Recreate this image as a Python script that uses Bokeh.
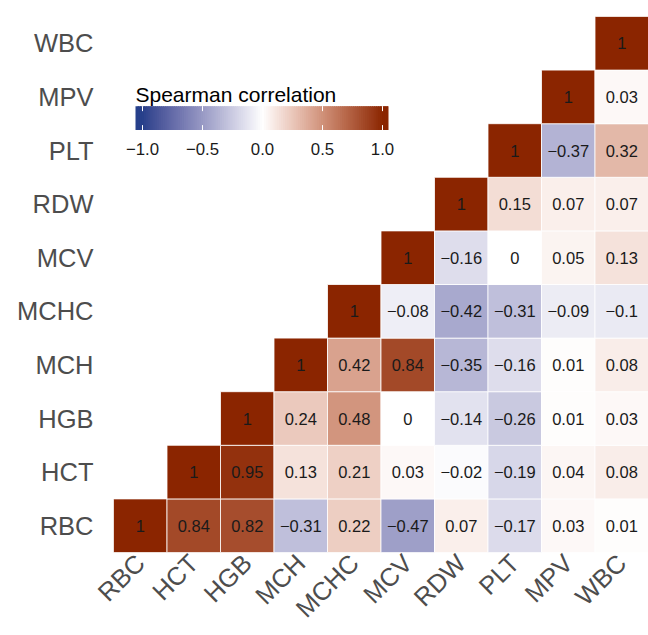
import numpy as np
from bokeh.plotting import figure
from bokeh.models import Range1d, FixedTicker, ColumnDataSource
from bokeh.core.properties import value
from bokeh.embed import file_html
from bokeh.resources import INLINE

# ---------------- data ----------------
variables = ["RBC", "HCT", "HGB", "MCH", "MCHC", "MCV", "RDW", "PLT", "MPV", "WBC"]
# upper-triangle rows: row i holds correlations with variables[i:], bottom row first
row_RBC = [1, 0.84, 0.82, -0.31, 0.22, -0.47, 0.07, -0.17, 0.03, 0.01]
row_HCT = [1, 0.95, 0.13, 0.21, 0.03, -0.02, -0.19, 0.04, 0.08]
row_HGB = [1, 0.24, 0.48, 0, -0.14, -0.26, 0.01, 0.03]
row_MCH = [1, 0.42, 0.84, -0.35, -0.16, 0.01, 0.08]
row_MCHC = [1, -0.08, -0.42, -0.31, -0.09, -0.1]
row_MCV = [1, -0.16, 0, 0.05, 0.13]
row_RDW = [1, 0.15, 0.07, 0.07]
row_PLT = [1, -0.37, 0.32]
row_MPV = [1, 0.03]
row_WBC = [1]
rows = [row_RBC, row_HCT, row_HGB, row_MCH, row_MCHC, row_MCV, row_RDW, row_PLT, row_MPV, row_WBC]
legend_ticks = [-1.0, -0.5, 0.0, 0.5, 1.0]
legend_title = "Spearman correlation"

LOW, MID, HIGH = "#27408B", "#FFFFFF", "#8B2500"

# ---------------- colour helpers (CIELAB interpolation) ----------------
def hex_to_rgb(h):
    h = h.lstrip("#")
    return [int(h[i:i + 2], 16) / 255 for i in (0, 2, 4)]

M = np.array([[0.4124564, 0.3575761, 0.1804375],
              [0.2126729, 0.7151522, 0.0721750],
              [0.0193339, 0.1191920, 0.9503041]])
WP = np.array([0.95047, 1.0, 1.08883])

def rgb_to_lab(rgb):
    c = np.array(rgb)
    lin = np.where(c <= 0.04045, c / 12.92, ((c + 0.055) / 1.055) ** 2.4)
    xyz = M @ lin / WP
    d = 6 / 29
    f = np.where(xyz > d ** 3, np.cbrt(xyz), xyz / (3 * d * d) + 4 / 29)
    return np.array([116 * f[1] - 16, 500 * (f[0] - f[1]), 200 * (f[1] - f[2])])

def lab_to_hex(lab):
    L, a, b = lab
    fy = (L + 16) / 116
    fx = fy + a / 500
    fz = fy - b / 200
    d = 6 / 29
    f = np.array([fx, fy, fz])
    xyz = np.where(f > d, f ** 3, 3 * d * d * (f - 4 / 29)) * WP
    lin = np.linalg.solve(M, xyz)
    lin = np.clip(lin, 0, 1)
    c = np.where(lin <= 0.0031308, 12.92 * lin, 1.055 * lin ** (1 / 2.4) - 0.055)
    c = np.clip(np.round(c * 255), 0, 255).astype(int)
    return "#%02x%02x%02x" % tuple(c)

LAB_LOW, LAB_MID, LAB_HIGH = (rgb_to_lab(hex_to_rgb(c)) for c in (LOW, MID, HIGH))

def colour(v):
    v = max(-1.0, min(1.0, v))
    if v < 0:
        lab = LAB_MID + (LAB_LOW - LAB_MID) * (-v)
    else:
        lab = LAB_MID + (LAB_HIGH - LAB_MID) * v
    return lab_to_hex(lab)

def fmt(v):
    if float(v) == int(v):
        s = str(int(v))
    else:
        s = ("%.2f" % v).rstrip("0")
    return s.replace("-", "\u2212")

# ---------------- cells ----------------
xs, ys, vals, cols, labels = [], [], [], [], []
for i, r in enumerate(rows):
    for k, v in enumerate(r):
        j = i + k
        xs.append(j + 0.5)
        ys.append(i + 0.5)
        vals.append(v)
        cols.append(colour(v))
        labels.append(fmt(v))
src = ColumnDataSource(dict(x=xs, y=ys, v=vals, c=cols, t=labels))

FONT = "Liberation Sans"
W, H = 648, 635
BL, BR, BT, BB = 113, 0, 16, 81
p = figure(width=W, height=H, x_range=Range1d(0, 10), y_range=Range1d(0, 10),
           output_backend="svg", toolbar_location=None,
           min_border_left=BL, min_border_right=BR, min_border_top=BT, min_border_bottom=BB)
p.background_fill_color = "white"
p.border_fill_color = "white"
p.outline_line_color = None
p.grid.visible = False

p.rect(x="x", y="y", width=1, height=1, source=src, fill_color="c",
       line_color="white", line_width=0.8)
p.text(x="x", y="y", text="t", source=src, text_align="center", text_baseline="middle",
       text_font=value(FONT), text_font_size="16.5px", text_color="#1a1a1a")

# axes
ticks = [i + 0.5 for i in range(len(variables))]
for ax in (p.xaxis[0], p.yaxis[0]):
    ax.ticker = FixedTicker(ticks=ticks)
    ax.major_label_overrides = {t: n for t, n in zip(ticks, variables)}
    ax.axis_line_color = None
    ax.major_tick_line_color = None
    ax.minor_tick_line_color = None
    ax.major_tick_in = 0
    ax.major_tick_out = 0
    ax.major_label_text_font = FONT
    ax.major_label_text_font_size = "25.5px"
    ax.major_label_text_color = "#4d4d4d"
p.yaxis.major_label_standoff = 20
p.xaxis.major_label_standoff = 6
p.xaxis.major_label_orientation = np.pi / 4

# ---------------- legend (colour bar drawn in plot coordinates) ----------------
cw, ch = (W - BL - BR) / 10, (H - BT - BB) / 10

def xd(px):
    return (px - BL) / cw

def yd(py):
    return 10 - (py - BT) / ch

bar_x0, bar_x1, bar_top, bar_bot = 135, 388, 106, 130
v_centre, v_scale = 262, 120  # px of value 0, px per unit
n = 120
edges = np.linspace(bar_x0, bar_x1, n + 1)
mids = (edges[:-1] + edges[1:]) / 2
bar_cols = [colour((m - v_centre) / v_scale) for m in mids]
rights = [min(e + 1.5, bar_x1) for e in edges[1:]]
p.quad(left=[xd(e) for e in edges[:-1]], right=[xd(r) for r in rights],
       top=yd(bar_top), bottom=yd(bar_bot), fill_color=bar_cols, line_color=None)

tick_px = [v_centre + v_scale * t for t in legend_ticks]
tx = [xd(t) for t in tick_px]
p.segment(x0=tx, x1=tx, y0=yd(bar_top), y1=yd(bar_top + 5), line_color="white", line_width=1)
p.segment(x0=tx, x1=tx, y0=yd(bar_bot - 5), y1=yd(bar_bot), line_color="white", line_width=1)
p.text(x=tx, y=[yd(149)] * len(tx), text=[("%.1f" % t).replace("-", "\u2212") for t in legend_ticks],
       text_align="center", text_baseline="middle", text_font=value(FONT),
       text_font_size="16.8px", text_color="#1a1a1a")
p.text(x=[xd(bar_x0)], y=[yd(94)], text=[legend_title], text_align="left",
       text_baseline="alphabetic", text_font=value(FONT), text_font_size="21px",
       text_color="black")

open("out.html", "w").write(file_html(p, INLINE))
